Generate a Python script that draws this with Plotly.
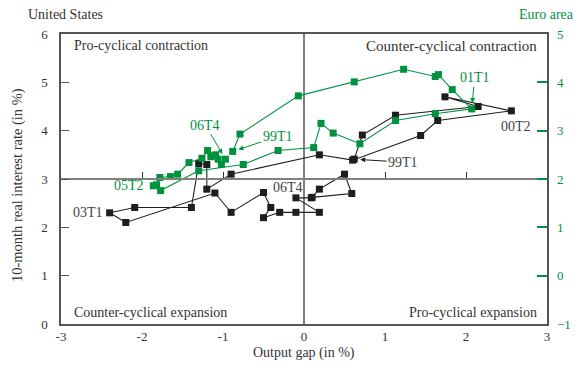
import plotly.graph_objects as go

# ---- data ----
us_gap = [0.62, 0.72, 1.13, 2.15, 1.74, 2.56, 1.65, 1.44,
          0.60, 0.19, -0.90, -1.20, -1.20, -1.30, -1.39, -2.09,
          -2.40, -2.20, -1.10, -0.90, -0.50, -0.41, -0.50, -0.30,
          -0.10, 0.19, -0.10, 0.09, 0.19, 0.50, 0.59, 0.10]
us_rate = [3.41, 3.91, 4.32, 4.50, 4.70, 4.41, 4.21, 3.90,
           3.39, 3.50, 3.10, 2.79, 3.30, 3.32, 2.41, 2.41,
           2.30, 2.10, 2.71, 2.31, 2.72, 2.41, 2.20, 2.31,
           2.31, 2.31, 2.61, 2.61, 2.79, 3.10, 2.70, 2.62]

ea_gap = [-0.88, -0.79, -0.07, 0.62, 1.23, 1.62, 1.66, 1.83,
          2.07, 1.62, 1.13, 0.69, 0.36, 0.21, 0.12, -0.32,
          -0.75, -1.30, -1.77, -1.86, -1.82, -1.78, -1.65, -1.56,
          -1.42, -1.26, -1.19, -1.09, -1.15, -1.06, -1.02, -0.97]
ea_rate = [2.57, 2.93, 3.72, 4.01, 4.27, 4.12, 4.16, 3.85,
           3.45, 3.35, 3.21, 2.73, 2.95, 3.15, 2.65, 2.59,
           2.30, 2.17, 1.76, 1.86, 1.88, 2.03, 2.05, 2.10,
           2.34, 2.43, 2.59, 2.50, 2.46, 2.41, 2.30, 2.41]

x_ticks = [-3, -2, -1, 0, 1, 2, 3]
y_left_ticks = [0, 1, 2, 3, 4, 5, 6]
y_right_ticks = [-1, 0, 1, 2, 3, 4, 5]

BLACK = "#1e1e1e"
GREEN = "#00923f"
GREY = "#808080"
FONT = "Liberation Serif"

fig = go.Figure()
fig.add_trace(go.Scatter(x=us_gap, y=us_rate, mode="lines+markers",
                         line=dict(color=BLACK, width=1.1),
                         marker=dict(symbol="square", size=7, color=BLACK),
                         showlegend=False, yaxis="y"))
fig.add_trace(go.Scatter(x=ea_gap, y=ea_rate, mode="lines+markers",
                         line=dict(color=GREEN, width=1.1),
                         marker=dict(symbol="square", size=7, color=GREEN),
                         showlegend=False, yaxis="y2"))

fig.update_layout(
    width=583, height=365,
    margin=dict(l=61, r=32, t=34, b=41),
    paper_bgcolor="white", plot_bgcolor="white",
    font=dict(family=FONT, size=13, color="#333333"),
    xaxis=dict(range=[-3, 3], tickvals=x_ticks, ticktext=[str(v) for v in x_ticks],
               showgrid=False, zeroline=True, zerolinecolor=GREY, zerolinewidth=1.5,
               showline=True, linecolor="#555555", linewidth=1.5, mirror=True,
               ticks="", tickfont=dict(size=13, color="#333333")),
    xaxis2=dict(range=[-3, 3], overlaying="x", anchor="free", position=0.5, side="bottom",
                showline=True, linecolor=GREY, linewidth=1.5, showgrid=False, zeroline=False,
                tickvals=[-2, -1, 1, 2], ticks="inside", ticklen=6, tickcolor="#333333",
                showticklabels=False),
    yaxis=dict(range=[0, 6], tickvals=y_left_ticks, showgrid=False, zeroline=False,
               showline=True, linecolor="#555555", linewidth=1.5, mirror=True,
               ticks="inside", ticklen=8, tickcolor="#555555", ticklabelstandoff=9,
               tickfont=dict(size=13, color="#333333")),
    yaxis2=dict(range=[-1, 5], tickvals=y_right_ticks, overlaying="y", side="right",
                showgrid=False, zeroline=False, showline=False,
                ticks="inside", ticklen=10, tickcolor=GREEN, tickwidth=1.5, ticklabelstandoff=9,
                tickfont=dict(size=13, color=GREEN)),
)
# dummy trace to activate xaxis2
fig.add_trace(go.Scatter(x=[None], y=[None], xaxis="x2", showlegend=False, hoverinfo="skip"))

ann = []
def lab(text, x, y, yref, color, **kw):
    d = dict(text=text, x=x, y=y, xref="x", yref=yref, font=dict(size=14, color=color, family=FONT))
    d.update(kw)
    ann.append(d)

arrow = dict(showarrow=True, arrowhead=2, arrowsize=1, arrowwidth=1, standoff=6)
# US labels
lab("99T1", us_gap[0], us_rate[0], "y", "#444444", arrowcolor=BLACK, ax=49, ay=3, **arrow)
lab("00T2", us_gap[5], us_rate[5], "y", "#444444", showarrow=False, xshift=5, yshift=-16)
lab("03T1", us_gap[16], us_rate[16], "y", "#444444", showarrow=False, xshift=-22, yshift=0)
lab("06T4", us_gap[31], us_rate[31], "y", "#444444", showarrow=False, xshift=-24, yshift=10)
# Euro labels
lab("99T1", ea_gap[0], ea_rate[0], "y2", GREEN, arrowcolor=GREEN, ax=45, ay=-15, **arrow)
lab("06T4", ea_gap[31], ea_rate[31], "y2", GREEN, arrowcolor=GREEN, ax=-20, ay=-34, **arrow)
lab("01T1", ea_gap[8], ea_rate[8], "y2", GREEN, arrowcolor=GREEN, ax=3, ay=-31, **arrow)
lab("05T2", ea_gap[19], ea_rate[19], "y2", GREEN, showarrow=False, xshift=-24, yshift=0)

def paper(text, x, y, xanchor, color="#333333", size=14, **kw):
    d = dict(text=text, x=x, y=y, xref="paper", yref="paper", xanchor=xanchor,
             yanchor="middle", showarrow=False, font=dict(size=size, color=color, family=FONT))
    d.update(kw)
    ann.append(d)

paper("Pro-cyclical contraction", 0.022, 0.959, "left")
paper("Counter-cyclical contraction", 0.984, 0.959, "right", size=15)
paper("Counter-cyclical expansion", 0.022, 0.041, "left")
paper("Pro-cyclical expansion", 0.984, 0.041, "right")
paper("United States", -0.073, 1.066, "left")
paper("Euro area", 1.059, 1.066, "right", color=GREEN)
paper("Output gap (in %)", 0.5, -0.10, "center", size=14)
paper("10-month real interest rate (in %)", -0.088, 0.48, "center", size=14.5, textangle=-90)

fig.update_layout(annotations=ann)
fig.write_html("out.html", config={"displayModeBar": False},
               post_script="document.body.style.margin='0';")
